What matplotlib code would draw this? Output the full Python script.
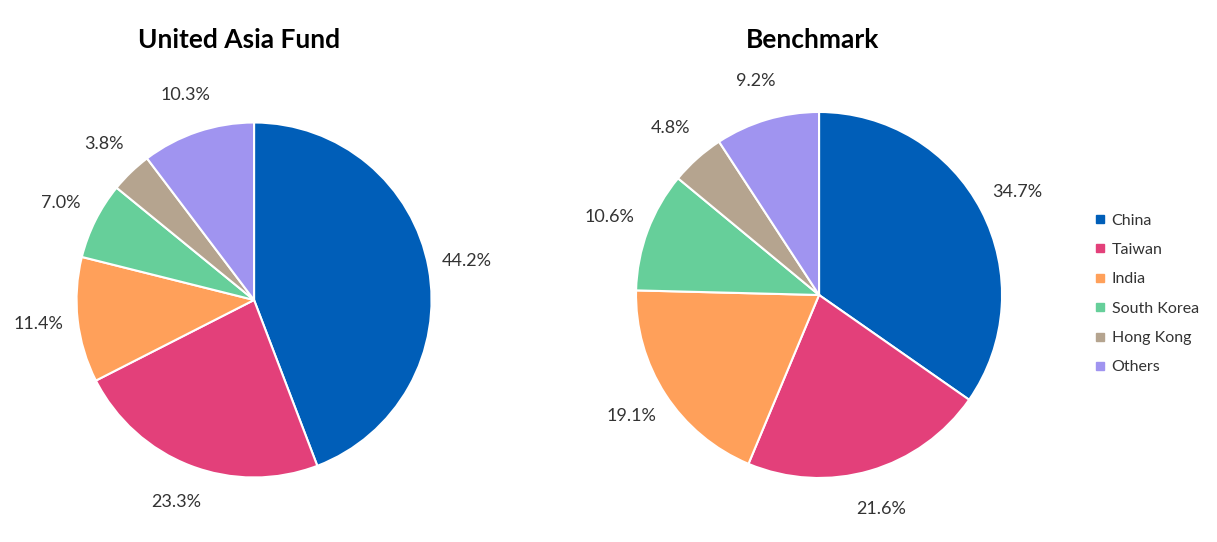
import matplotlib.pyplot as plt
from matplotlib.lines import Line2D

countries = ['China', 'Taiwan', 'India', 'South Korea', 'Hong Kong', 'Others']
fund = [44.2, 23.3, 11.4, 7.0, 3.8, 10.3]
bench = [34.7, 21.6, 19.1, 10.6, 4.8, 9.2]
colors = ['#005EB8', '#E3407A', '#FFA05A', '#66CF9A', '#B5A48F', '#A094F0']

plt.rcParams['font.family'] = 'Lato'

fig = plt.figure(figsize=(12.17, 5.42), dpi=100)

def draw(ax, vals):
    ax.pie(vals, colors=colors, startangle=90, counterclock=False,
           labels=[f'{v:.1f}%' for v in vals], labeldistance=1.22,
           textprops={'fontsize': 13, 'color': '#333333', 'ha': 'center', 'va': 'center'},
           wedgeprops={'edgecolor': 'white', 'linewidth': 1.5})
    ax.set_xlim(-1, 1)
    ax.set_ylim(-1, 1)
    ax.set_aspect('equal')

ax1 = fig.add_axes([0.2087 - 0.1458, 0.4465 - 0.3275, 0.2917, 0.655])
draw(ax1, fund)
ax2 = fig.add_axes([0.673 - 0.1504, 0.4557 - 0.3376, 0.3008, 0.6753])
draw(ax2, bench)

fig.text(239 / 1217, 1 - 40 / 542, 'United Asia Fund', ha='center', va='center',
         fontsize=19, fontweight='bold', color='black')
fig.text(813 / 1217, 1 - 40 / 542, 'Benchmark', ha='center', va='center',
         fontsize=19, fontweight='bold', color='black')

handles = [Line2D([], [], marker='s', linestyle='none', color=c, markersize=6) for c in colors]
fig.legend(handles, countries, loc='center left', bbox_to_anchor=(1078 / 1217, 1 - 294 / 542),
           frameon=False, fontsize=11.5, handletextpad=0.2, labelspacing=0.95, handlelength=1.0,
           labelcolor='#333333')

fig.savefig('out.png', dpi=100)
